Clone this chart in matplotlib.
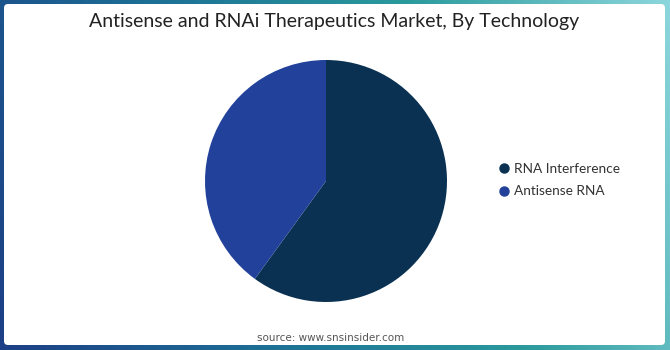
import numpy as np
import matplotlib.pyplot as plt
from matplotlib.colors import LinearSegmentedColormap
from matplotlib.patches import FancyBboxPatch
from matplotlib.lines import Line2D

labels = ['RNA Interference', 'Antisense RNA']
shares = [60, 40]
colors = ['#0b3152', '#22419a']

W, H = 670, 350
fig = plt.figure(figsize=(W / 100, H / 100), dpi=100)

# gradient frame
bg = fig.add_axes([0, 0, 1, 1])
bg.set_axis_off()
cmap = LinearSegmentedColormap.from_list('frame', ['#1d3f86', '#1c6f95', '#2a9a9c', '#8bd6dc'])
gx = np.linspace(0, 1, 300)
gy = np.linspace(0, 1, 100)[:, None]
grad = np.clip(gx[None, :] * 0.85 + gy * 0.15, 0, 1)
bg.imshow(grad, cmap=cmap, extent=[0, W, 0, H], aspect='auto', origin='lower')
bg.add_patch(FancyBboxPatch((4, 5), 661, 341, boxstyle='round,pad=0,rounding_size=4',
                            facecolor='white', edgecolor='none'))
bg.set_xlim(0, W)
bg.set_ylim(0, H)

bg.text(W / 2 - 0.5, H - 22, 'Antisense and RNAi Therapeutics Market, By Technology',
        ha='center', va='center', fontsize=14, family='Lato', color='#222222')
bg.text(331, 12, 'source: www.snsinsider.com',
        ha='center', va='center', fontsize=7.5, family='DejaVu Sans', color='#555555')

# pie
r = 121
cx, cy = 326, H - 181
ax = fig.add_axes([(cx - r) / W, (cy - r) / H, 2 * r / W, 2 * r / H])
ax.pie(shares, colors=colors, startangle=90, counterclock=False,
       wedgeprops=dict(linewidth=0))
ax.set_xlim(-1, 1)
ax.set_ylim(-1, 1)
ax.set_aspect('equal')

# legend
handles = [Line2D([], [], marker='o', linestyle='none', markersize=6.5,
                  markerfacecolor=c, markeredgecolor=c) for c in colors]
leg = fig.legend(handles, labels, loc='center left', bbox_to_anchor=(484 / W, 1 - 180 / H),
                 frameon=False, handletextpad=0.1, labelspacing=0.8,
                 prop=dict(family='Lato', size=9.8), handlelength=1.2)
for t in leg.get_texts():
    t.set_color('#333333')

fig.savefig('out.png', dpi=100)
